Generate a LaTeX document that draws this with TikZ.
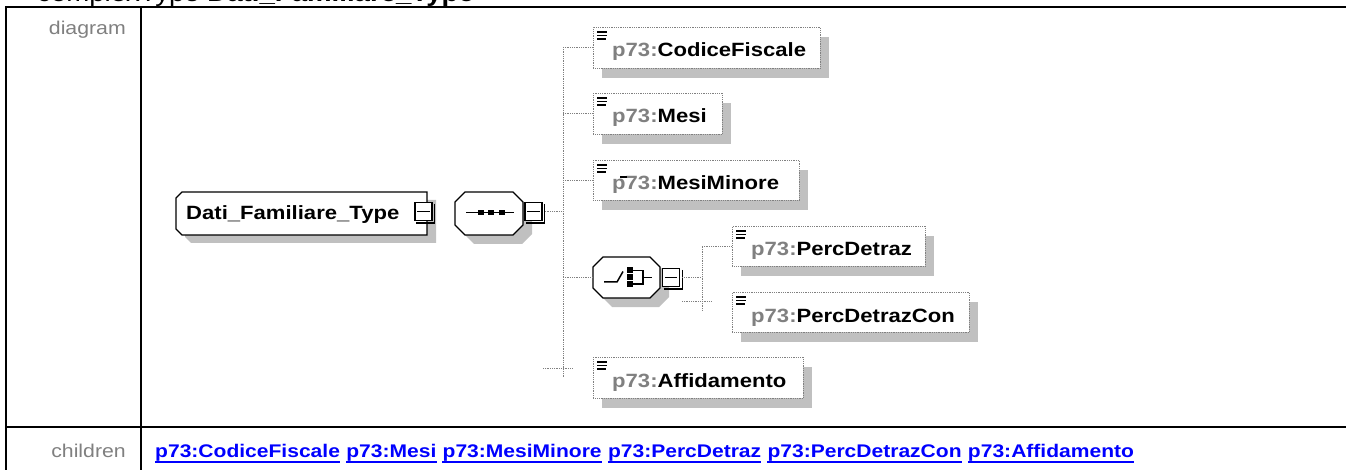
\documentclass[tikz,border=0pt]{standalone}
\usepackage{fontspec}
\setmainfont{Liberation Sans}[FakeStretch=1.15]
\usetikzlibrary{calc,positioning}
\definecolor{shadowgray}{HTML}{C0C0C0}
\definecolor{txtgray}{HTML}{808080}
\definecolor{conngray}{HTML}{808080}
\definecolor{linkblue}{HTML}{0000FF}
\tikzset{
  conn/.style={draw=conngray, densely dotted, line width=0.8pt},
  tableline/.style={black, line width=2pt},
  elembox/.style={draw=conngray, densely dotted, line width=0.8pt, fill=white, rectangle, inner sep=0pt, anchor=north west},
  shadowfill/.style={fill=shadowgray, draw=none},
  compo/.style={draw=black, line width=1.3pt, fill=white},
  symline/.style={black, line width=1.5pt},
  iconline/.style={black, line width=1.8pt},
  holder/.style={inner sep=0pt, rectangle, anchor=north west},
  minusbox/.style={draw=black, line width=1.4pt, fill=white, rectangle, inner sep=0pt, minimum width=17pt, minimum height=18pt},
  eltext/.style={font=\fontsize{19.2}{22}\selectfont\bfseries, inner sep=0pt, anchor=base west},
  lbl/.style={text=txtgray, font=\fontsize{18.5}{22}\selectfont, inner sep=0pt, anchor=base east},
  linknode/.style={text=linkblue, font=\fontsize{18.3}{22}\selectfont\bfseries, inner sep=0pt, anchor=base west},
  uline/.style={linkblue, line width=1.5pt},
}
\newcommand\xelem[6]{%
  \fill[shadowfill] (#2+9,#3+10) rectangle (#4+9,#5+10);
  \node[elembox, minimum width=#4-#2, minimum height=#5-#3] (#1) at (#2,#3) {};
  \draw[iconline] ($(#1.north west)+(4,5)$) -- ++(10,0);
  \draw[iconline] ($(#1.north west)+(4,8.5)$) -- ++(10,0);
  \draw[iconline] ($(#1.north west)+(4,12)$) -- ++(9,0);
  \node[eltext] (#1-t) at ($(#1.north west)+(19,30)$) {\textcolor{txtgray}{p73:}#6};
}
\newcommand\octshape[6]{%
  \path[#6] (#1+#5,#2) -- (#3-#5,#2) -- (#3,#2+#5) -- (#3,#4-#5) -- (#3-#5,#4) -- (#1+#5,#4) -- (#1,#4-#5) -- (#1,#2+#5) -- cycle;}
\newcommand\xminus[3]{%
  \node[minusbox] (#1) at (#2,#3) {};
  \draw[line width=1.4pt] ($(#1.north east)+(2,2)$) -- ($(#1.south east)+(2,2)$) -- ($(#1.south west)+(2,2)$);
  \draw[line width=1.4pt] ($(#1.west)+(3,0)$) -- ($(#1.east)+(-3,0)$);
}
\begin{document}
\begin{tikzpicture}[x=1pt,y=-1pt]
\useasboundingbox (0,0) rectangle (1346,470);
\fill[white] (0,0) rectangle (1346,470);

% title (mostly cut off, as in the reference)
\node[anchor=base west, inner sep=0pt, font=\fontsize{24}{28}\selectfont] (title) at (37,2) {complexType \textbf{Dati\_Familiare\_Type}};

% table
\draw[tableline] (6,470) -- (6,7) -- (1346,7);
\draw[tableline] (141,7) -- (141,470);
\draw[tableline] (6,427) -- (1346,427);
\node[lbl] (lbldiag) at (126,35) {diagram};
\node[lbl] (lblchild) at (126,457) {children};

% children links
\node[linknode] (l1) at (155,457) {p73:CodiceFiscale};
\node[linknode, base right=5.9pt of l1] (l2) {p73:Mesi};
\node[linknode, base right=5.9pt of l2] (l3) {p73:MesiMinore};
\node[linknode, base right=5.9pt of l3] (l4) {p73:PercDetraz};
\node[linknode, base right=5.9pt of l4] (l5) {p73:PercDetrazCon};
\node[linknode, base right=5.9pt of l5] (l6) {p73:Affidamento};
\foreach \l in {l1,l2,l3,l4,l5,l6}{
  \draw[uline] ($(\l.base west)+(0,5)$) -- ($(\l.base east)+(0,5)$);
}

% Dati_Familiare_Type box
\fill[shadowfill] (191,200) -- (436,200) -- (436,243) -- (191,243) -- (185,237) -- (185,206) -- cycle;
\draw[compo] (182,192) -- (427,192) -- (427,235) -- (182,235) -- (176,229) -- (176,198) -- cycle;
\node[eltext] (dft) at (186,220) {Dati\_Familiare\_Type};
\xminus{dftm}{423.5}{211.5}

% sequence compositor
\octshape{464}{201}{532}{244}{10}{shadowfill}
\octshape{455}{192}{523}{235}{10}{compo}
\node[holder, minimum width=68pt, minimum height=43pt] (seq) at (455,192) {};
\draw[symline] (466,212.5) -- (514,212.5);
\fill[black] (477.5,210) rectangle (483.5,215);
\fill[black] (488,210) rectangle (494,215);
\fill[black] (498.5,210) rectangle (504.5,215);
\xminus{seqm}{533.5}{211.5}

% main spine
\coordinate (sptop) at (563,47);
\coordinate (spbot) at (563,377);
\draw[conn] (sptop) -- (spbot);
\draw[conn] ($(seqm.east)+(2,0)$) -- (seqm.east -| sptop);

% elements
\xelem{cf}{593}{27}{820}{68}{CodiceFiscale}
\xelem{mesi}{593}{93}{722}{134}{Mesi}
\xelem{mm}{593}{160}{799}{200}{MesiMinore}
\draw[black, line width=1.3pt] (620,177) -- (627,177);
\xelem{pd}{732}{226}{925}{266}{PercDetraz}
\xelem{pdc}{732}{292}{969}{332}{PercDetrazCon}
\xelem{aff}{593}{357}{803}{398}{Affidamento}

\draw[conn] (cf.west -| sptop) -- (cf.west);
\draw[conn] (mesi.west -| sptop) -- (mesi.west);
\draw[conn] (mm.west -| sptop) -- (mm.west);

% choice compositor
\octshape{602}{266}{669}{307}{10}{shadowfill}
\octshape{593}{257}{660}{298}{10}{compo}
\node[holder, minimum width=67pt, minimum height=41pt] (cho) at (593,257) {};
\draw[symline] (604,282) -- (617,282) -- (623,271.5);
\fill[black] (626.5,267.5) rectangle (632.5,273);
\fill[black] (626.5,274.5) rectangle (632.5,280);
\fill[black] (626.5,281.5) rectangle (632.5,287);
\draw[symline] (632,270.5) -- (643,270.5) -- (643,284) -- (632,284);
\draw[symline] (643,277.5) -- (652,277.5);
\xminus{chom}{671}{277.5}
\draw[conn] (cho.west -| sptop) -- (cho.west);

% sub spine
\coordinate (sstop) at (702,247);
\coordinate (ssbot) at (702,311);
\draw[conn] (sstop) -- (ssbot);
\draw[conn] ($(chom.east)+(2,0)$) -- (chom.east -| sstop);
\draw[conn] (pd.west -| sstop) -- (pd.west);
\coordinate (pca) at (682,301);
\coordinate (pcb) at (712,301);
\draw[conn] (pca) -- (pcb);

% affidamento stub
\coordinate (affa) at (543,368);
\coordinate (affb) at (573,368);
\draw[conn] (affa) -- (affb);
\end{tikzpicture}
\end{document}
